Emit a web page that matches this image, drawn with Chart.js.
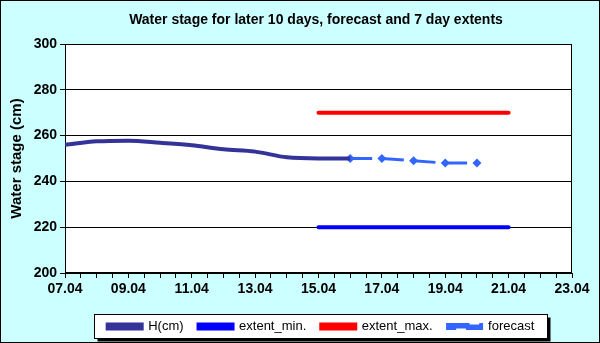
<!DOCTYPE html>
<html>
<head>
<meta charset="utf-8">
<title>Water stage</title>
<script src="https://cdn.jsdelivr.net/npm/chart.js@4/dist/chart.umd.min.js"></script>
<style>
  html, body { margin: 0; padding: 0; background: #fff; }
  canvas { display: block; }
</style>
</head>
<body>
<canvas id="myChart" width="600" height="343"></canvas>
<script>
// x is counted in days from 07.04
const xTickLabels = ['07.04', '09.04', '11.04', '13.04', '15.04', '17.04', '19.04', '21.04', '23.04'];

const hDays = [0, 1, 2, 3, 4, 5, 6, 7, 8, 9];
const hValues = [256.0, 257.5, 257.8, 256.9, 255.8, 254.0, 253.0, 250.5, 250.0, 250.0];

const forecastDays = [9, 10, 11, 12, 13];
const forecastValues = [250, 250, 249, 248, 248];

const extentDays = [8, 14];
const extentMin = [220, 220];
const extentMax = [270, 270];

const toPoints = (xs, ys) => xs.map((x, i) => ({ x: x, y: ys[i] }));

// background, plot area and legend box (Excel look)
const framePlugin = {
    id: 'frame',
    afterLayout(chart) {
        // centre title and legend over the plot area like the original
        chart.titleBlock.left += 30;
        chart.titleBlock.right += 30;
        chart.legend.left += 35;
        chart.legend.right += 35;
    },
    beforeDraw(chart) {
        const ctx = chart.ctx;
        const a = chart.chartArea;
        ctx.save();
        ctx.fillStyle = '#CCFFFF';
        ctx.fillRect(0, 0, chart.width, chart.height);
        ctx.strokeStyle = '#000';
        ctx.lineWidth = 1;
        ctx.strokeRect(0.5, 0.5, chart.width - 1, chart.height - 1);
        ctx.fillStyle = '#fff';
        ctx.fillRect(a.left, a.top, a.right - a.left, a.bottom - a.top);

        const boxes = chart.legend.legendHitBoxes;
        if (boxes && boxes.length) {
            const first = boxes[0];
            const last = boxes[boxes.length - 1];
            const l = Math.round(first.left - 14) + 0.5;
            const r = Math.round(last.left + last.width + 13) + 0.5;
            const t = Math.round(first.top - 6) + 0.5;
            const b = Math.round(first.top + first.height + 5) + 0.5;
            ctx.fillStyle = '#000';
            ctx.fillRect(l + 3, t + 3, r - l, b - t);
            ctx.fillStyle = '#fff';
            ctx.fillRect(l, t, r - l, b - t);
            ctx.strokeRect(l, t, r - l, b - t);
        }
        ctx.restore();
    },
    beforeDatasetsDraw(chart) {
        const ctx = chart.ctx;
        const a = chart.chartArea;
        ctx.save();
        ctx.strokeStyle = '#000';
        ctx.lineWidth = 1;
        ctx.strokeRect(Math.round(a.left) + 0.5, Math.round(a.top) + 0.5,
            Math.round(a.right - a.left) - 1, Math.round(a.bottom - a.top) - 1);
        ctx.restore();
    }
};

Chart.defaults.font.family = "'Liberation Sans', Arial, sans-serif";
Chart.defaults.color = '#000';

new Chart(document.getElementById('myChart').getContext('2d'), {
    type: 'line',
    data: {
        datasets: [{
            label: 'H(cm)',
            data: toPoints(hDays, hValues),
            borderColor: '#333399',
            backgroundColor: '#333399',
            borderWidth: 4,
            pointRadius: 0,
            cubicInterpolationMode: 'monotone'
        }, {
            label: 'extent_min.',
            data: toPoints(extentDays, extentMin),
            borderColor: '#0000FF',
            backgroundColor: '#0000FF',
            borderWidth: 4,
            borderCapStyle: 'round',
            pointRadius: 0
        }, {
            label: 'extent_max.',
            data: toPoints(extentDays, extentMax),
            borderColor: '#FF0000',
            backgroundColor: '#FF0000',
            borderWidth: 4,
            borderCapStyle: 'round',
            pointRadius: 0
        }, {
            label: 'forecast',
            data: toPoints(forecastDays, forecastValues),
            borderColor: '#3366FF',
            backgroundColor: '#3366FF',
            borderWidth: 3,
            borderDash: [22, 9.7],
            pointStyle: 'rectRot',
            pointRadius: 4.5,
            pointBorderWidth: 0
        }]
    },
    options: {
        responsive: false,
        animation: false,
        devicePixelRatio: 1,
        layout: { padding: { left: 0, right: 28, top: 0, bottom: 0 } },
        plugins: {
            title: {
                display: true,
                text: 'Water stage for later 10 days, forecast and 7 day extents',
                font: { size: 14, weight: 'bold' },
                padding: { top: 11.6, bottom: 15.6 }
            },
            legend: {
                position: 'bottom',
                labels: {
                    boxWidth: 34,
                    boxHeight: 4,
                    padding: 15,
                    font: { size: 13 }
                }
            },
            tooltip: { enabled: false }
        },
        scales: {
            x: {
                type: 'linear',
                min: 0,
                max: 16,
                afterFit: (scale) => { scale.height = 32; },
                border: { color: '#000', width: 1 },
                grid: { drawOnChartArea: false, tickLength: 5, tickColor: '#000' },
                ticks: {
                    stepSize: 0.5,
                    autoSkip: false,
                    maxRotation: 0,
                    padding: 3,
                    font: { size: 14, weight: 'bold' },
                    callback: (value) => (Number.isInteger(value) && value % 2 === 0) ? xTickLabels[value / 2] : ''
                }
            },
            y: {
                min: 200,
                max: 300,
                afterFit: (scale) => { scale.width = 65; },
                border: { color: '#000', width: 1 },
                grid: { color: '#000', tickLength: 5, tickColor: '#000' },
                ticks: {
                    stepSize: 20,
                    padding: 3,
                    font: { size: 14, weight: 'bold' }
                },
                title: {
                    display: true,
                    text: 'Water stage (cm)',
                    font: { size: 15, weight: 'bold' },
                    padding: { top: 8, bottom: 0 }
                }
            }
        }
    },
    plugins: [framePlugin]
});
</script>
</body>
</html>
